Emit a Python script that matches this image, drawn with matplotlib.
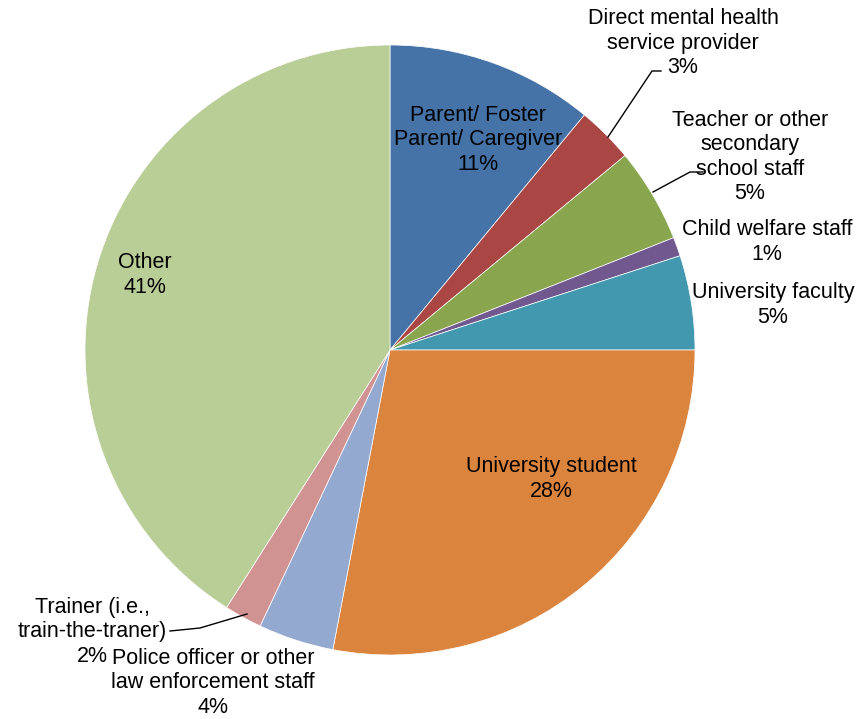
import matplotlib
matplotlib.use("Agg")
import matplotlib.pyplot as plt

# Respondent roles and their share of responses (percent)
categories = [
    "Parent/ Foster\nParent/ Caregiver",
    "Direct mental health\nservice provider",
    "Teacher or other\nsecondary\nschool staff",
    "Child welfare staff",
    "University faculty",
    "University student",
    "Police officer or other\nlaw enforcement staff",
    "Trainer (i.e.,\ntrain-the-traner)",
    "Other",
]
values = [11, 3, 5, 1, 5, 28, 4, 2, 41]
colors = ["#4572A7", "#AA4643", "#89A54E", "#71588F", "#4198AF",
          "#DB843D", "#93A9CF", "#D19392", "#B9CD96"]

plt.rcParams["font.family"] = ["Liberation Sans", "DejaVu Sans"]

W, H = 865, 719
fig = plt.figure(figsize=(W / 100, H / 100), dpi=100)
cx, cy, r = 390, 350, 305
ax = fig.add_axes([(cx - r) / W, (H - cy - r) / H, 2 * r / W, 2 * r / H])

ax.pie(values, colors=colors, startangle=90, counterclock=False, radius=1,
       wedgeprops=dict(linewidth=0.5, edgecolor="white"))
ax.set_xlim(-1, 1)
ax.set_ylim(-1, 1)
ax.set_aspect("equal")
ax.axis("off")


def px(x, y):
    """Pixel position in the figure to data coordinates of the pie axes."""
    return (x - cx) / r, (cy - y) / r


# label anchor (pixel centre of the text block) for each category
label_pos = [
    (478, 140), (683, 43), (750, 157), (767, 242), (773, 305),
    (551, 479), (213, 683), (92, 632), (145, 275),
]
fs = 15.5
for name, v, (x, y) in zip(categories, values, label_pos):
    tx, ty = px(x, y)
    ax.text(tx, ty, f"{name}\n{v}%", ha="center", va="center",
            fontsize=fs, linespacing=1.2, color="black", clip_on=False)

# leader lines for labels set outside the pie
leaders = [
    [(608, 137), (652, 71), (661, 71)],
    [(653, 192), (690, 172), (703, 172)],
    [(247, 614), (200, 628), (170, 631)],
]
for pts in leaders:
    xs, ys = zip(*[px(x, y) for x, y in pts])
    ax.plot(xs, ys, color="black", linewidth=1.0, clip_on=False)

fig.savefig("out.png", dpi=100, facecolor="white")
